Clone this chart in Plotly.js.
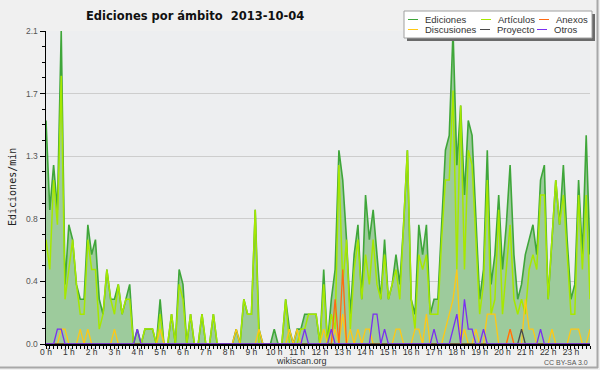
<!DOCTYPE html>
<html>
<head>
<meta charset="utf-8">
<script src="https://cdn.plot.ly/plotly-3.0.1.min.js"></script>
<style>
html,body{margin:0;padding:0;background:#f0f0f0;}
#chart{width:600px;height:370px;}
</style>
</head>
<body>
<div id="chart"></div>
<script>
// 10-minute slots of 2013-10-04 (0..143), edits per minute
const ediciones = [
1.5,0.9,1.2,0.9,2.1,0.4,0.8,0.7,0.4,0.3,0.3,0.8,0.6,0.7,0.3,0.2,0.5,0.3,0.3,0.4,0.2,0.3,0.4,0,
0.1,0,0.1,0.1,0.1,0,0.3,0,0,0.2,0,0.5,0.4,0,0.2,0,0,0.2,0,0,0.2,0,0,0,
0,0,0.1,0,0.3,0.2,0.2,0.9,0.1,0,0,0,0.1,0,0,0.3,0.1,0,0.1,0.1,0.2,0.2,0.2,0.2,
0,0.5,0,0.3,0.5,1.3,1.1,0.7,0.2,0.6,0.8,0.3,1.0,0.7,0.9,0.6,0.3,0.7,0.3,0.4,0.6,0.4,0.8,1.3,
0.3,0.2,0.8,0.6,0.8,0.2,0.3,0.3,0.8,1.3,1.4,2.1,1.2,1.6,1.0,1.5,1.4,0.8,0.3,0.5,1.3,0.4,0.6,1.0,
0.5,0.8,1.2,0.6,0.3,0.4,0.6,0.7,0.8,0.6,1.1,1.2,0.3,0.7,1.1,0.8,1.2,0.7,0.3,0.4,1.1,0.6,1.4,0.6
];
const articulos = [
0.7,0.5,1.1,0.8,1.8,0.3,0.5,0.7,0.4,0.2,0.2,0.7,0.5,0.5,0.1,0.2,0.5,0.3,0.2,0.4,0.2,0.3,0.3,0,
0,0,0.1,0.1,0.1,0,0.2,0,0,0.2,0,0.4,0.3,0,0.2,0,0,0.2,0,0,0.2,0,0,0,
0,0,0,0,0.3,0.2,0.2,0.9,0,0,0,0,0,0,0,0.3,0,0,0,0.1,0.1,0.2,0.2,0.2,
0,0.4,0,0.2,0.1,1.2,0.4,0.7,0.1,0.5,0.7,0.3,0.6,0.4,0.7,0.4,0.3,0.6,0.3,0.4,0.5,0.3,0.8,1.3,
0.3,0.1,0.6,0.5,0.6,0.2,0.2,0.2,0.7,1.1,1.1,1.7,0.5,1.6,0.5,1.3,1.2,0.7,0.2,0.4,1.1,0.2,0.3,0.9,
0.2,0.5,0.8,0.3,0.2,0.3,0.2,0.5,0.6,0.5,1.0,1.0,0.3,0.7,1.1,0.8,1.0,0.6,0.2,0.2,1.0,0.5,1.0,0.3
];
const discusiones = [
0,0,0,0,0.1,0.1,0,0,0,0.1,0,0.1,0,0,0,0,0,0,0.1,0,0,0,0,0,
0,0,0,0,0,0,0.1,0,0,0,0,0,0,0,0,0,0,0,0,0,0,0,0,0,
0,0,0.1,0,0,0,0,0,0.1,0,0,0,0,0,0,0,0.1,0,0.1,0,0,0,0,0,
0,0.1,0,0,0.1,0,0.2,0,0.1,0,0.1,0,0.1,0.1,0,0,0,0,0,0,0.1,0.1,0,0,
0,0.1,0.1,0,0.2,0,0,0,0,0.1,0.2,0.3,0.5,0,0.1,0,0,0.1,0,0,0.2,0.2,0.2,0,
0,0,0.1,0,0,0,0.3,0.1,0.1,0,0,0,0,0.1,0,0,0,0,0.1,0.1,0.1,0,0,0.1
];
const anexos = [
0,0,0,0,0,0,0,0,0,0,0,0,0,0,0,0,0,0,0,0,0,0,0,0,
0,0,0,0,0,0,0,0,0,0,0,0,0,0,0,0,0,0,0,0,0,0,0,0,
0,0,0,0,0,0,0,0,0,0,0,0,0,0,0,0,0,0,0,0,0,0,0,0,
0,0,0,0,0.3,0,0.5,0,0,0,0,0,0,0,0,0,0,0,0,0,0,0,0,0,
0,0,0,0,0,0,0,0,0,0,0,0,0,0,0,0,0,0,0,0,0,0,0,0,
0,0,0.1,0,0,0,0,0,0,0,0,0,0,0,0,0,0,0,0,0,0,0,0,0
];
const proyecto = [
0,0,0,0,0,0,0,0,0,0,0,0,0,0,0,0,0,0,0,0,0,0,0,0,
0,0,0,0,0,0,0,0,0,0,0,0,0,0,0,0,0,0,0,0,0,0,0,0,
0,0,0,0,0,0,0,0,0,0,0,0,0,0,0,0,0,0,0,0,0,0,0,0,
0,0,0,0,0,0,0,0,0,0,0,0,0,0,0,0,0,0,0,0,0,0,0,0,
0,0,0,0,0,0,0,0,0,0,0,0,0,0,0,0,0,0,0,0,0,0,0,0,
0,0,0,0,0,0.1,0,0,0,0,0,0,0,0,0,0,0,0,0,0,0,0,0,0
];
const otros = [
0,0,0,0.1,0.1,0,0,0,0,0,0,0,0,0,0,0,0,0,0,0,0,0,0,0,
0.1,0,0,0,0,0,0,0,0,0,0,0,0,0,0,0,0,0,0,0,0,0,0,0,
0,0,0,0,0,0,0,0,0,0,0,0,0,0,0,0,0,0,0,0,0.1,0,0,0,
0,0,0,0.1,0,0,0,0,0,0,0,0,0,0,0.2,0.2,0,0.1,0,0,0,0,0,0,
0,0,0,0,0,0,0.1,0,0,0,0,0.1,0.2,0,0.3,0.1,0.1,0,0,0.1,0,0,0,0,
0,0,0,0,0,0,0,0,0,0,0.1,0,0,0,0,0,0,0,0,0,0,0,0,0
];
const hourLabels = ["0 h","1 h","2 h","3 h","4 h","5 h","6 h","7 h","8 h","9 h","10 h","11 h",
"12 h","13 h","14 h","15 h","16 h","17 h","18 h","19 h","20 h","21 h","22 h","23 h"];
const yTickVals = [0,0.42,0.84,1.26,1.68,2.1];
const yTickText = ["0.0","0.4","0.8","1.3","1.7","2.1"];
const legendNames = ["Ediciones","Artículos","Anexos","Discusiones","Proyecto","Otros"];

const slots = ediciones.map((_, i) => i);
const hourVals = hourLabels.map((_, h) => h * 6);

const colors = {
  Ediciones: "#3fa63a", "Artículos": "#a6e800", Anexos: "#ff6a13",
  Discusiones: "#ffc814", Proyecto: "#4a4a4a", Otros: "#7a2ff0"
};

function line(y, name, w) {
  return {x: slots, y: y, type: "scatter", mode: "lines", name: name,
          line: {color: colors[name], width: w}, hoverinfo: "skip"};
}
const traces = [
  {x: slots, y: ediciones, type: "scatter", mode: "lines", fill: "tozeroy",
   fillcolor: "#9dcb9c", line: {color: colors.Ediciones, width: 1.6}, name: "Ediciones"},
  line(articulos, "Artículos", 1.5),
  line(discusiones, "Discusiones", 1.3),
  line(anexos, "Anexos", 1.3),
  line(proyecto, "Proyecto", 1.3),
  line(otros, "Otros", 1.3)
];

const L = 46, R = 590, T = 31, B = 344;
const px = x => (x - L) / (R - L);
const py = y => (B - y) / (B - T);
const narrow = "Liberation Sans";

const shapes = [
  {type: "line", xref: "paper", yref: "paper", x0: px(597.5), x1: px(597.5), y0: py(0), y1: py(368), line: {color: "#a8a8a8", width: 2}},
  {type: "line", xref: "paper", yref: "paper", x0: px(0), x1: px(598), y0: py(367.5), y1: py(367.5), line: {color: "#a8a8a8", width: 2}},
  {type: "rect", xref: "paper", yref: "paper", x0: px(407), x1: px(595), y0: py(41), y1: py(14), fillcolor: "#6a6a6a", line: {width: 0}},
  {type: "rect", xref: "paper", yref: "paper", x0: px(404), x1: px(592), y0: py(38), y1: py(11), fillcolor: "#ffffff", line: {color: "#a0a0a0", width: 1}}
];
const annotations = [];
const legPos = [[408, 19.5], [481, 19.5], [539, 19.5], [408, 29.5], [480, 29.5], [537, 29.5]];
legendNames.forEach((n, k) => {
  const [lx, ly] = legPos[k];
  shapes.push({type: "line", xref: "paper", yref: "paper", x0: px(lx), x1: px(lx + 10), y0: py(ly), y1: py(ly),
               line: {color: colors[n], width: 1}});
  annotations.push({xref: "paper", yref: "paper", x: px(lx + 15), y: py(ly), xanchor: "left", yanchor: "middle",
                    text: n, showarrow: false, font: {family: narrow, size: 9.5, color: "#333"}});
});
annotations.push({xref: "paper", yref: "paper", x: px(12), y: py(187), textangle: -90, text: "Ediciones/min",
  showarrow: false, xanchor: "center", yanchor: "middle", font: {family: "DejaVu Sans Mono", size: 10, color: "#222"}});
annotations.push({xref: "paper", yref: "paper", x: px(301), y: py(361.5), text: "wikiscan.org",
  showarrow: false, xanchor: "center", yanchor: "middle", font: {family: narrow, size: 9, color: "#333"}});
annotations.push({xref: "paper", yref: "paper", x: px(590), y: py(362.5), text: "CC BY-SA 3.0",
  showarrow: false, xanchor: "right", yanchor: "middle", font: {family: narrow, size: 7, color: "#555"}});

const layout = {
  width: 600, height: 370,
  margin: {l: L, r: 600 - R, t: T, b: 370 - B, pad: 0},
  paper_bgcolor: "#f0f0f0", plot_bgcolor: "#edeef0",
  showlegend: false,
  title: {text: "Ediciones por ámbito  2013-10-04", x: 86 / 600, xanchor: "left", xref: "container",
          y: 1 - 16 / 370, yanchor: "middle", yref: "container",
          font: {family: "DejaVu Sans", size: 11.5, color: "#111", weight: "bold"}},
  xaxis: {range: [0, 143], tickmode: "array", tickvals: hourVals, ticktext: hourLabels,
          ticks: "outside", ticklen: 3, tickcolor: "#000", tickwidth: 1, ticklabelstandoff: -4,
          showline: true, linecolor: "#000", linewidth: 2, showgrid: false, zeroline: false,
          tickfont: {family: narrow, size: 8.5, color: "#333"},
          minor: {tickmode: "linear", tick0: 0, dtick: 1, ticks: "outside", ticklen: 3, tickcolor: "#000", showgrid: false},
          fixedrange: true},
  yaxis: {range: [0, 2.1], tickmode: "array", tickvals: yTickVals, ticktext: yTickText,
          ticks: "outside", ticklen: 5, tickcolor: "#000", tickwidth: 1,
          showline: true, linecolor: "#000", linewidth: 1.5, showgrid: true, gridcolor: "#cdcdcd", gridwidth: 1,
          zeroline: false, tickfont: {family: narrow, size: 8.5, color: "#555"},
          minor: {tickmode: "linear", tick0: 0, dtick: 0.105, ticks: "outside", ticklen: 3, tickcolor: "#000", showgrid: false},
          fixedrange: true},
  shapes: shapes,
  annotations: annotations
};
Plotly.newPlot("chart", traces, layout, {displayModeBar: false, staticPlot: true});
</script>
</body>
</html>
